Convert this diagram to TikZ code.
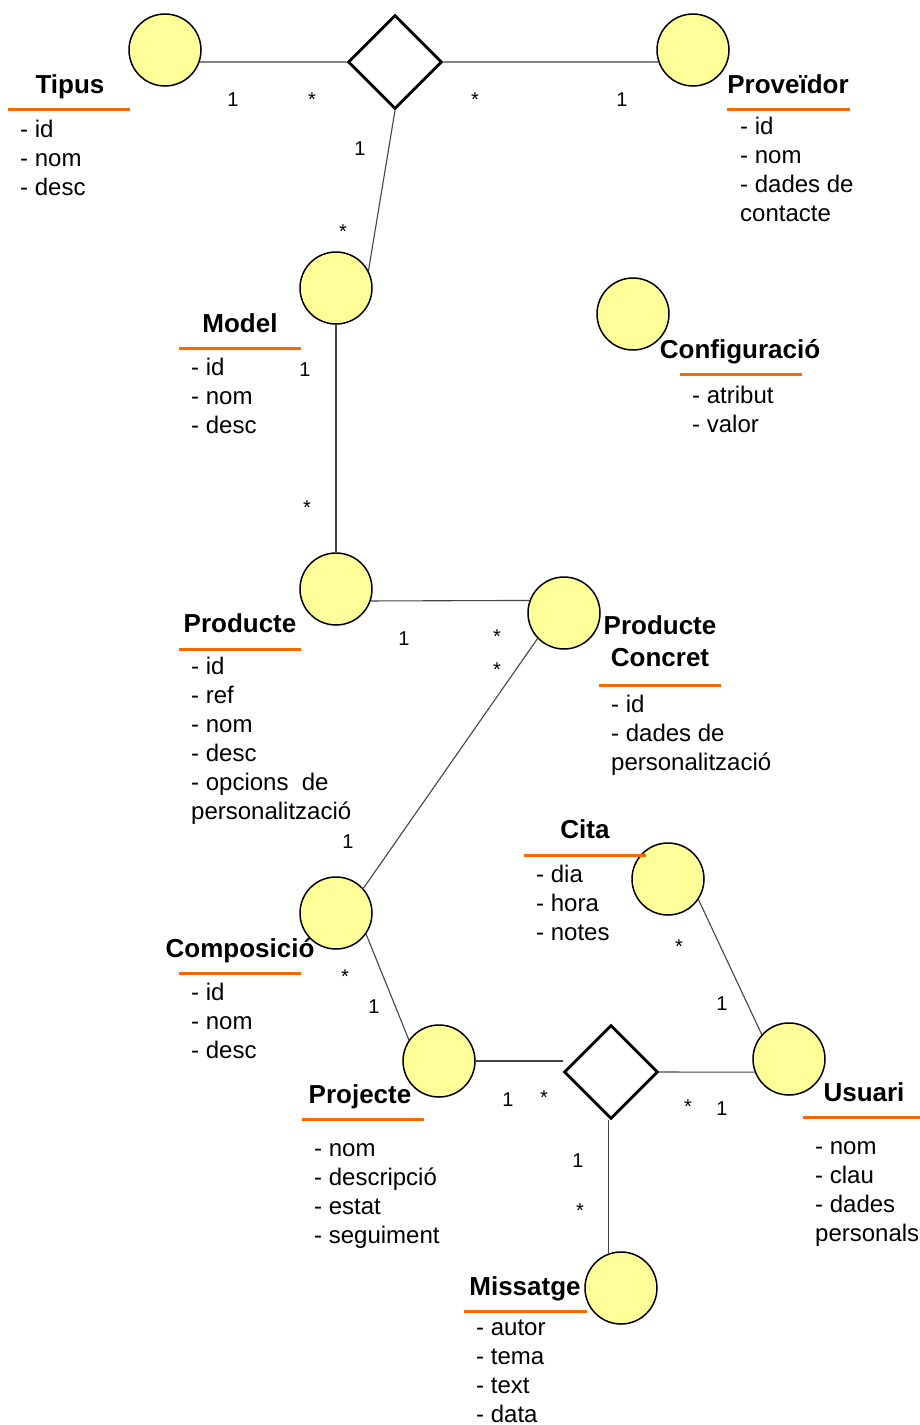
\documentclass[tikz,border=0pt]{standalone}
\usepackage{fontspec}
\setmainfont{Liberation Sans}
\usetikzlibrary{shapes.geometric,backgrounds}
\definecolor{cfill}{HTML}{FFFF99}
\definecolor{uorange}{HTML}{FF6600}
\definecolor{lgray}{HTML}{444444}
\begin{document}
\begin{tikzpicture}[x=1pt,y=-1pt,
  ent/.style={circle,draw=black,line width=1.5pt,fill=cfill,minimum size=72pt,inner sep=0pt},
  rel/.style={diamond,draw=black,line width=2.8pt,fill=white,minimum width=94pt,minimum height=94pt,inner sep=0pt},
  conn/.style={draw=lgray,line width=1.1pt},
  title/.style={font=\fontsize{26}{32}\selectfont\bfseries,inner sep=0pt,anchor=base,align=center},
  attrs/.style={font=\fontsize{24}{29}\selectfont,inner sep=0pt,anchor=base west,align=left},
  mult/.style={font=\fontsize{20}{22}\selectfont,inner sep=0pt,anchor=base},
  uline/.style={draw=uorange,line width=3pt}]
\useasboundingbox (0,0) rectangle (920,1425);

% entities and relations
\node[ent] (tipus) at (165,50) {};
\node[rel] (d1) at (395,62) {};
\node[ent] (prov) at (693,50) {};
\node[ent] (model) at (336,288) {};
\node[ent] (config) at (633,314) {};
\node[ent] (prod) at (336,589) {};
\node[ent] (concret) at (564,613) {};
\node[ent] (cita) at (668,879) {};
\node[ent] (comp) at (336,913) {};
\node[ent] (proj) at (439,1061) {};
\node[rel] (d2) at (611,1072) {};
\node[ent] (usuari) at (789,1059) {};
\node[ent] (miss) at (621,1288) {};

% connectors
\begin{scope}[on background layer]
\draw[conn] (tipus.-19) -- (d1.west);
\draw[conn] (d1.east) -- (prov.199);
\draw[conn] (d1.south) -- (model.28);
\draw[conn] (model.south) -- (prod.north);
\draw[conn] (prod.-19) -- (concret.160);
\draw[conn] (concret.224) -- (comp.42);
\draw[conn] (comp.-35) -- (proj.145);
\draw[conn] (proj.east) -- (proj.east -| d2.west);
\draw[conn] (d2.east) -- (usuari.201);
\draw[conn] (miss.110 |- d2.south) -- (miss.110);
\draw[conn] (cita.-34) -- (usuari.138);
\end{scope}

% titles, underlines, attributes (multi-line nodes placed at their last baseline)
\node[title] (tTipus) at (70,93) {Tipus};
\draw[uline] (8,109) -- (130,109);
\node[attrs] (aTipus) at (20,195) {- id\\- nom\\- desc};

\node[title] (tProv) at (788,93) {Proveïdor};
\draw[uline] (727,109) -- (850,109);
\node[attrs] (aProv) at (740,221) {- id\\- nom\\- dades de\\contacte};

\node[title] (tModel) at (240,332) {Model};
\draw[uline] (179,348) -- (301,348);
\node[attrs] (aModel) at (191,433) {- id\\- nom\\- desc};

\node[title] (tConfig) at (740,358) {Configuració};
\draw[uline] (680,374) -- (802,374);
\node[attrs] (aConfig) at (692,432) {- atribut\\- valor};

\node[title] (tProd) at (240,632) {Producte};
\draw[uline] (179,649) -- (301,649);
\node[attrs] (aProd) at (191,819) {- id\\- ref\\- nom\\- desc\\- opcions\ \ de\\personalització};

\node[title] (tConcret) at (660,666) {Producte\\Concret};
\draw[uline] (599,685) -- (721,685);
\node[attrs] (aConcret) at (611,770) {- id\\- dades de\\personalització};

\node[title] (tCita) at (585,838) {Cita};
\draw[uline] (524,855) -- (646,855);
\node[attrs] (aCita) at (536,940) {- dia\\- hora\\- notes};

\node[title] (tComp) at (240,957) {Composició};
\draw[uline] (179,973) -- (301,973);
\node[attrs] (aComp) at (191,1058) {- id\\- nom\\- desc};

\node[title] (tProj) at (360,1103) {Projecte};
\draw[uline] (302,1119) -- (424,1119);
\node[attrs] (aProj) at (314,1243) {- nom\\- descripció\\- estat\\- seguiment};

\node[title] (tUsuari) at (864,1101) {Usuari};
\draw[uline] (803,1117) -- (920,1117);
\node[attrs] (aUsuari) at (815,1241) {- nom\\- clau\\- dades\\personals};

\node[title] (tMiss) at (525,1295) {Missatge};
\draw[uline] (464,1311) -- (587,1311);
\node[attrs] (aMiss) at (476,1422) {- autor\\- tema\\- text\\- data};

% multiplicities
\node[mult] (m1) at (233,106) {1};
\node[mult] (m2) at (312,106) {*};
\node[mult] (m3) at (475,106) {*};
\node[mult] (m4) at (622,106) {1};
\node[mult] (m5) at (360,155) {1};
\node[mult] (m6) at (343,238) {*};
\node[mult] (m7) at (305,376) {1};
\node[mult] (m8) at (307,514) {*};
\node[mult] (m9) at (404,645) {1};
\node[mult] (m10) at (497,643) {*};
\node[mult] (m11) at (497,676) {*};
\node[mult] (m12) at (348,848) {1};
\node[mult] (m13) at (679,953) {*};
\node[mult] (m14) at (722,1010) {1};
\node[mult] (m15) at (345,983) {*};
\node[mult] (m16) at (374,1013) {1};
\node[mult] (m17) at (508,1106) {1};
\node[mult] (m18) at (544,1104) {*};
\node[mult] (m19) at (688,1113) {*};
\node[mult] (m20) at (722,1115) {1};
\node[mult] (m21) at (578,1167) {1};
\node[mult] (m22) at (580,1217) {*};
\end{tikzpicture}
\end{document}
